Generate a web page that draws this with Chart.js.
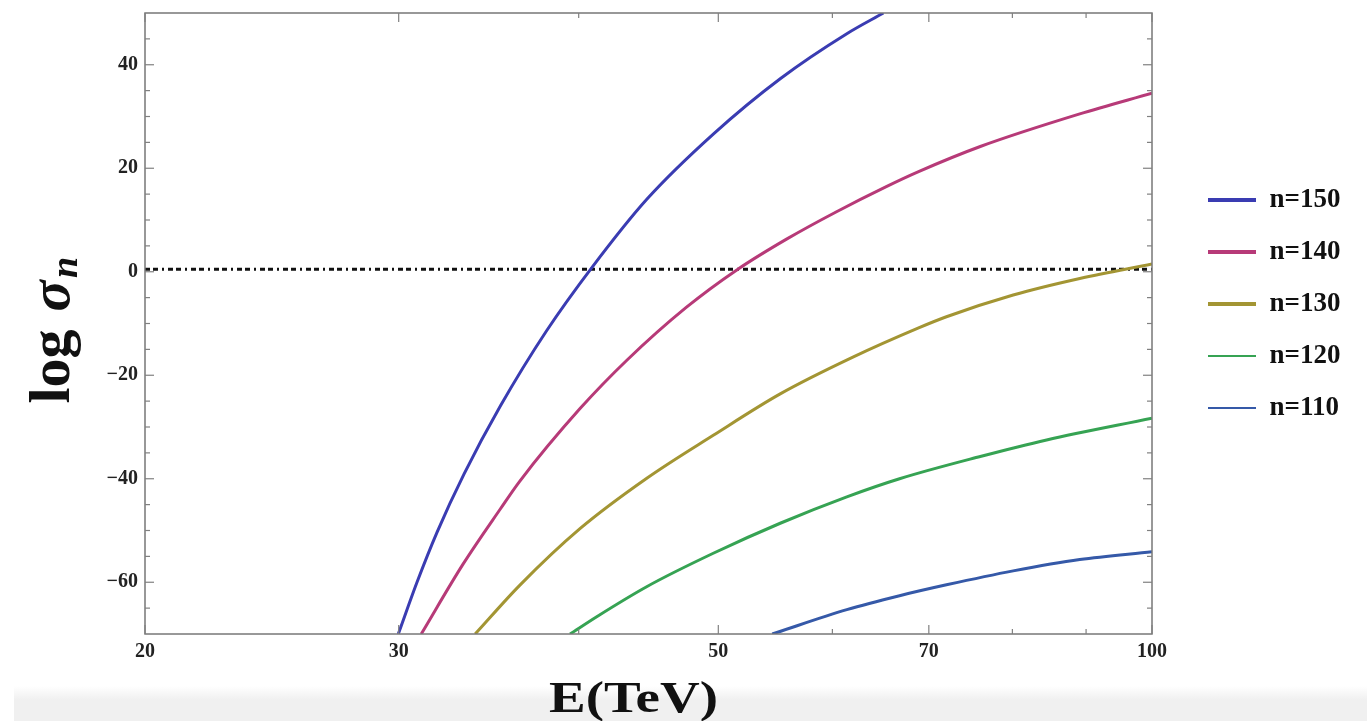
<!DOCTYPE html>
<html>
<head>
<meta charset="utf-8">
<script src="https://cdn.jsdelivr.net/npm/chart.js@4.4.1/dist/chart.umd.min.js"></script>
<style>
html,body{margin:0;padding:0;background:#fff;}
#wrap{position:relative;width:1367px;height:721px;overflow:hidden;}
#band{position:absolute;left:14px;right:0;top:686px;bottom:0;background:linear-gradient(#ffffff,#f0f0f0 14px,#f0f0f0);}
canvas{position:absolute;left:0;top:0;}
</style>
</head>
<body>
<div id="wrap"><div id="band"></div><canvas id="c" width="1367" height="721"></canvas></div>
<script>
// ---- data ----
const seriesLabels = ['n=150', 'n=140', 'n=130', 'n=120', 'n=110'];

const E150 = [29.98, 30.9, 31.9, 33.3, 35.3, 38.0, 40.9, 44.6, 49.6, 55.2, 61.4, 65.1];
const S150 = [-70, -59.9, -50.3, -39.1, -25.9, -11.4, 1.0, 14.0, 26.6, 37.3, 46.0, 50];

const E140 = [31.1, 33.25, 35.3, 36.4, 40.1, 43.2, 47.5, 51.5, 55.8, 60.4, 65.4, 68.8, 76.0, 89.1, 100];
const S140 = [-70, -56.5, -45.8, -40.5, -26.4, -17.1, -6.9, 0.35, 6.35, 11.6, 16.45, 19.3, 24.2, 30.5, 34.5];

const E130 = [33.9, 36.4, 40.1, 44.6, 49.6, 55.2, 62.0, 68.8, 72.0, 80.1, 89.1, 100];
const S130 = [-70, -60.6, -49.6, -39.9, -31.6, -23.6, -16.5, -10.9, -8.7, -4.5, -1.3, 1.5];

const E120 = [39.45, 41.17, 44.59, 49.6, 55.2, 61.4, 66.8, 76.0, 84.5, 100];
const S120 = [-70, -66.65, -60.86, -54.4, -48.6, -43.5, -40.0, -35.7, -32.5, -28.3];

const E110 = [54.5, 61.4, 66.8, 72.0, 80.1, 89.1, 100];
const S110 = [-70, -65.3, -62.6, -60.5, -57.8, -55.6, -54.1];

const thresholdE = [20, 100];
const thresholdS = [0.5, 0.5];

const xTickValues = [20, 30, 50, 70, 100];
const xMinorValues = [40, 60, 80, 90];
const yTickValues = [-60, -40, -20, 0, 20, 40];
const yMinorValues = [-65, -55, -50, -45, -35, -30, -25, -15, -10, -5, 5, 10, 15, 25, 30, 35, 45];

const xTitle = 'E(TeV)';
const yTitleMain = 'log';
const yTitleSym = 'σ';
const yTitleSub = 'n';

// ---- styles ----
const colors = ['#3a3cb2', '#b73a78', '#a39533', '#36a353', '#3559a8'];
const legendLineWidths = [4, 4, 4, 2, 2];
const serif = "'Liberation Serif', 'Times New Roman', serif";

function pts(xs, ys) { return xs.map((x, i) => ({ x: x, y: ys[i] })); }

const seriesE = [E150, E140, E130, E120, E110];
const seriesS = [S150, S140, S130, S120, S110];

const datasets = seriesLabels.map((lab, i) => ({
  label: lab,
  data: pts(seriesE[i], seriesS[i]),
  borderColor: colors[i],
  backgroundColor: colors[i],
  borderWidth: 3,
  pointRadius: 0,
  fill: false,
  cubicInterpolationMode: 'monotone'
}));
datasets.push({
  label: 'threshold',
  data: pts(thresholdE, thresholdS),
  borderColor: '#111',
  borderWidth: 3,
  borderDash: [5, 3, 5, 4, 2, 4],
  pointRadius: 0,
  fill: false
});

// legend geometry
const legendFontSize = 27;
const legendPad = 25;
const legendBoxW = 48;
const mctx = document.createElement('canvas').getContext('2d');
mctx.font = 'bold ' + legendFontSize + 'px ' + serif;
const maxTextW = Math.max(...seriesLabels.map(t => mctx.measureText(t).width));
const legendW = legendPad + legendBoxW + legendFontSize / 2 + maxTextW + 10;
const spacerW = 31;
const padRight = Math.max(0, 1367 - 1152 - spacerW - legendW);

const framePlugin = {
  id: 'framePlugin',
  afterDatasetsDraw(chart) {
    const ctx = chart.ctx, a = chart.chartArea, xs = chart.scales.x, ys = chart.scales.y;
    ctx.save();
    ctx.strokeStyle = '#777';
    ctx.lineWidth = 1.5;
    ctx.strokeRect(a.left, a.top, a.right - a.left, a.bottom - a.top);
    ctx.lineWidth = 1.2;
    ctx.strokeStyle = '#808080';
    const tick = (x1, y1, x2, y2) => { ctx.beginPath(); ctx.moveTo(x1, y1); ctx.lineTo(x2, y2); ctx.stroke(); };
    xTickValues.forEach(v => { const p = xs.getPixelForValue(v); tick(p, a.bottom, p, a.bottom - 9); tick(p, a.top, p, a.top + 9); });
    xMinorValues.forEach(v => { const p = xs.getPixelForValue(v); tick(p, a.bottom, p, a.bottom - 5); tick(p, a.top, p, a.top + 5); });
    yTickValues.forEach(v => { const p = ys.getPixelForValue(v); tick(a.left, p, a.left + 9, p); tick(a.right, p, a.right - 9, p); });
    yMinorValues.forEach(v => { const p = ys.getPixelForValue(v); tick(a.left, p, a.left + 5, p); tick(a.right, p, a.right - 5, p); });
    ctx.restore();
  },
  afterDraw(chart) {
    const ctx = chart.ctx, a = chart.chartArea;
    ctx.save();
    ctx.fillStyle = '#111';
    // x title
    ctx.font = 'bold 44px ' + serif;
    ctx.textAlign = 'center';
    ctx.textBaseline = 'alphabetic';
    ctx.save();
    ctx.translate((a.left + a.right) / 2 - 15, a.bottom + 78);
    ctx.scale(1.25, 1);
    ctx.fillText(xTitle, 0, 0);
    ctx.restore();
    // y title
    ctx.save();
    ctx.translate(69, (a.top + a.bottom) / 2 + 80);
    ctx.rotate(-Math.PI / 2);
    ctx.textAlign = 'left';
    ctx.font = 'bold 58px ' + serif;
    ctx.fillText(yTitleMain, 0, 0);
    let cx = ctx.measureText(yTitleMain).width + 18;
    ctx.font = 'italic bold 58px ' + serif;
    ctx.fillText(yTitleSym, cx, 0);
    cx += ctx.measureText(yTitleSym).width + 2;
    ctx.font = 'italic bold 38px ' + serif;
    ctx.fillText(yTitleSub, cx, 8);
    ctx.restore();
    ctx.restore();
  }
};

const tickFont = { family: serif, weight: 'bold', size: 20 };

new Chart(document.getElementById('c'), {
  type: 'line',
  data: { datasets: datasets },
  options: {
    responsive: false,
    animation: false,
    devicePixelRatio: 1,
    layout: { padding: { left: 0, top: 13, right: padRight, bottom: 0 } },
    plugins: {
      legend: {
        position: 'right',
        align: 'start',
        fullSize: false,
        title: { display: true, text: '', padding: { top: 0, bottom: 136.5 }, font: { size: 10 } },
        labels: {
          usePointStyle: true,
          pointStyleWidth: legendBoxW,
          padding: legendPad,
          color: '#111',
          font: { family: serif, weight: 'bold', size: legendFontSize },
          generateLabels: chart => chart.data.datasets
            .map((ds, i) => ({
              text: ds.label,
              strokeStyle: ds.borderColor,
              fillStyle: ds.borderColor,
              lineWidth: legendLineWidths[i],
              pointStyle: 'line',
              hidden: false,
              datasetIndex: i,
              fontColor: '#111'
            }))
            .filter((it, i) => i < seriesLabels.length)
        }
      },
      tooltip: { enabled: false }
    },
    scales: {
      x: {
        type: 'logarithmic',
        min: 20,
        max: 100,
        position: 'bottom',
        grid: { display: false, drawTicks: false },
        border: { display: false },
        afterBuildTicks: s => { s.ticks = xTickValues.map(v => ({ value: v })); },
        afterFit: s => { s.height = 87; s.paddingLeft = 0; s.paddingRight = 0; },
        ticks: {
          padding: 6,
          autoSkip: false,
          maxRotation: 0,
          color: '#222',
          font: tickFont,
          callback: v => String(v)
        }
      },
      y: {
        type: 'linear',
        min: -70,
        max: 50,
        position: 'left',
        grid: { display: false, drawTicks: false },
        border: { display: false },
        afterBuildTicks: s => { s.ticks = yTickValues.map(v => ({ value: v })); },
        afterFit: s => { s.width = 145; s.paddingTop = 0; s.paddingBottom = 0; },
        ticks: {
          padding: 7,
          color: '#222',
          font: tickFont,
          callback: v => (v < 0 ? '\u2212' + Math.abs(v) : String(v))
        }
      },
      yR: {
        type: 'linear',
        min: -70,
        max: 50,
        position: 'right',
        grid: { display: false, drawTicks: false },
        border: { display: false },
        ticks: { display: false },
        afterFit: s => { s.width = spacerW; s.paddingTop = 0; s.paddingBottom = 0; }
      }
    }
  },
  plugins: [framePlugin]
});
</script>
</body>
</html>
